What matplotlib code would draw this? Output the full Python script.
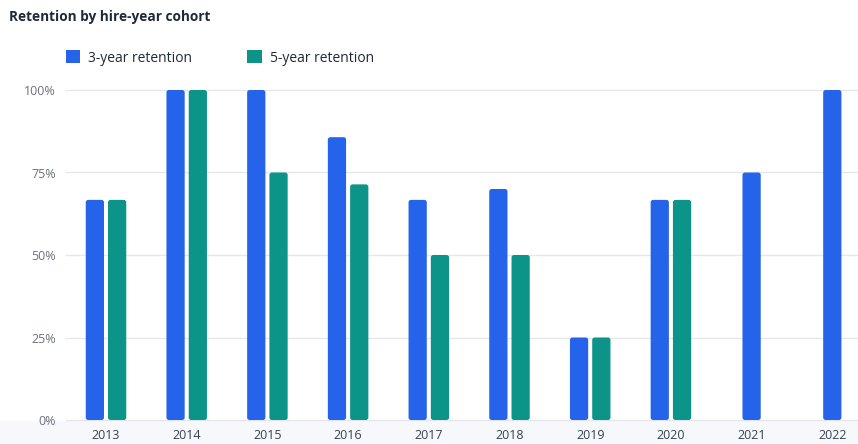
import matplotlib.pyplot as plt
from matplotlib.patches import FancyBboxPatch, Rectangle, Patch
import numpy as np

# Data
years = ['2013', '2014', '2015', '2016', '2017', '2018', '2019', '2020', '2021', '2022']
three_year = [66.7, 100, 100, 85.7, 66.7, 70, 25, 66.7, 75, 100]
five_year = [66.7, 100, 75, 71.4, 50, 50, 25, 66.7, None, None]
series_names = ['3-year retention', '5-year retention']
colors = ['#2563eb', '#0d9488']

plt.rcParams['font.family'] = ['Open Sans', 'DejaVu Sans']

W, H = 858, 444
fig = plt.figure(figsize=(W / 100, H / 100), dpi=100)
ax = fig.add_axes([65.65 / W, 24 / H, 807 / W, 330 / H])

# grouped bars; a missing value leaves the remaining bar centred
bw = 0.226
gap = 0.05
x = np.arange(len(years))
for i in x:
    vals = [(v, c) for v, c in zip([three_year[i], five_year[i]], colors) if v is not None]
    total = len(vals) * bw + (len(vals) - 1) * gap
    start = i - total / 2
    for k, (v, c) in enumerate(vals):
        ax.bar(start + k * (bw + gap), v, width=bw, align='edge', color=c, zorder=3)

# round the bar corners
px_x = 1 / 80.7
px_y = 1 / 3.3
for p in list(ax.patches):
    fb = FancyBboxPatch((p.get_x(), p.get_y()), p.get_width(), p.get_height(),
                        boxstyle='round,pad=0,rounding_size=%f' % (2.5 * px_x),
                        mutation_aspect=px_y / px_x,
                        fc=p.get_facecolor(), ec='none', zorder=3)
    p.remove()
    ax.add_patch(fb)

ax.set_xlim(-0.5, len(years) - 0.5)
ax.set_ylim(0, 100)
ax.set_xticks(x, years)
ax.set_yticks([0, 25, 50, 75, 100], ['0%', '25%', '50%', '75%', '100%'])
ax.tick_params(axis='x', length=0, pad=6.5, labelsize=9, labelcolor='#374151')
ax.tick_params(axis='y', length=0, pad=7.2, labelsize=9, labelcolor='#6b7280')
ax.grid(axis='y', color='#e5e7eb', linewidth=1, zorder=0)
for line in ax.get_ygridlines():
    line.set_clip_on(False)
for s in ax.spines.values():
    s.set_visible(False)
ax.patch.set_alpha(0)

# light band under the axis
fig.add_artist(Rectangle((0, 0), 1, 23.5 / H, transform=fig.transFigure,
                         color='#f6f8fb', zorder=0))

fig.text(9 / W, 1 - 17 / H, 'Retention by hire-year cohort', fontsize=9.8,
         fontweight='bold', color='#1f2937', va='center')

handles = [Patch(facecolor=c, label=n) for c, n in zip(colors, series_names)]
fig.legend(handles=handles, loc='center left', bbox_to_anchor=(65.6 / W, 1 - 58 / H),
           ncol=2, frameon=False, fontsize=10, handlelength=1.05, handleheight=1.05,
           handletextpad=0.55, columnspacing=4.0, borderpad=0, borderaxespad=0,
           labelcolor='#1f2937')

fig.savefig('out.png', dpi=100)
